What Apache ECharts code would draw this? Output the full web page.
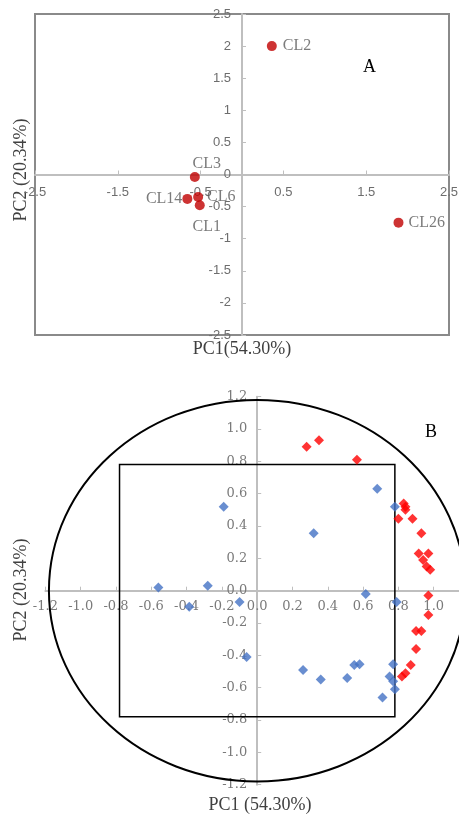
<!DOCTYPE html>
<html><head><meta charset="utf-8">
<script src="https://cdn.jsdelivr.net/npm/echarts@6/dist/echarts.min.js"></script>
<style>html,body{margin:0;padding:0;background:#fff}#c{width:459px;height:817px}</style>
</head><body><div id="c"></div>
<script>
// Chart A: scores
const sampleNames = ['CL2','CL3','CL14','CL6','CL1','CL26'];
const samplePC1 = [0.36,-0.57,-0.66,-0.53,-0.51,1.89];
const samplePC2 = [2.0,-0.04,-0.38,-0.35,-0.48,-0.75];
// Chart B: loadings
const redPoints = [[0.28,0.89],[0.35,0.93],[0.565,0.81],[0.83,0.54],[0.84,0.52],[0.84,0.50],[0.80,0.445],[0.88,0.445],[0.93,0.355],[0.915,0.23],[0.97,0.23],[0.94,0.19],[0.96,0.15],[0.98,0.13],[0.97,-0.03],[0.97,-0.15],[0.90,-0.25],[0.93,-0.25],[0.90,-0.36],[0.87,-0.46],[0.84,-0.51],[0.82,-0.53]];
const bluePoints = [[-0.19,0.52],[0.32,0.355],[0.68,0.63],[0.78,0.52],[-0.56,0.02],[-0.28,0.03],[-0.385,-0.10],[-0.10,-0.07],[0.615,-0.02],[0.79,-0.07],[-0.06,-0.41],[0.26,-0.49],[0.36,-0.55],[0.51,-0.54],[0.55,-0.46],[0.58,-0.455],[0.77,-0.455],[0.75,-0.53],[0.77,-0.56],[0.78,-0.61],[0.71,-0.66]];
const circleRadius = 1.18;
const boxHalf = 0.78;

const labelPos = {
  CL2: {position:'right', distance:6},
  CL3: {position:'top', distance:0, offset:[12,0]},
  CL14:{position:'left', distance:0},
  CL6: {position:'right', distance:4},
  CL1: {position:'bottom', distance:8, offset:[7,0]},
  CL26:{position:'right', distance:5}
};

// grid geometry (pixels)
const gA = {left:35, top:14, width:414, height:321};
const gB = {left:45.4, top:396.7, width:423.6, height:388};
const rangeA = [-2.5, 2.5], rangeB = [-1.2, 1.2];
// offset that puts each axis on the other axis' zero
function zeroOffset(size, r){ return -size * (0 - r[0]) / (r[1] - r[0]); }

const serif = 'Liberation Serif';
const lineStyleAx = {color:'#bfbfbf', width:2};
const tickAx = {show:true, inside:true, length:4, lineStyle:{color:'#bfbfbf'}};
const chart = echarts.init(document.getElementById('c'), null, {renderer:'canvas'});
chart.setOption({
  animation:false,
  grid:[
    Object.assign({show:true, borderColor:'#8a8a8a', borderWidth:2, backgroundColor:'transparent', containLabel:false, outerBoundsMode:'none'}, gA),
    Object.assign({containLabel:false, outerBoundsMode:'none'}, gB)
  ],
  xAxis:[
    {gridIndex:0, type:'value', min:rangeA[0], max:rangeA[1], interval:1, position:'bottom',
     offset:zeroOffset(gA.height, rangeA), axisLine:{onZero:false, lineStyle:lineStyleAx}, axisTick:tickAx,
     axisLabel:{margin:11, color:'#6d6d6d', fontFamily:'Liberation Sans', fontSize:13},
     splitLine:{show:false}},
    {gridIndex:1, type:'value', min:rangeB[0], max:rangeB[1], interval:0.2, position:'bottom',
     offset:zeroOffset(gB.height, rangeB), axisLine:{onZero:false, lineStyle:lineStyleAx}, axisTick:tickAx,
     axisLabel:{margin:9, color:'#7a7a7a', fontFamily:'DejaVu Serif', fontSize:13, formatter:v=>v.toFixed(1)},
     splitLine:{show:false}}
  ],
  yAxis:[
    {gridIndex:0, type:'value', min:rangeA[0], max:rangeA[1], interval:0.5, position:'left',
     offset:zeroOffset(gA.width, rangeA), axisLine:{onZero:false, lineStyle:lineStyleAx}, axisTick:tickAx,
     axisLabel:{margin:11, color:'#6d6d6d', fontFamily:'Liberation Sans', fontSize:13},
     splitLine:{show:false}},
    {gridIndex:1, type:'value', min:rangeB[0], max:rangeB[1], interval:0.2, position:'left',
     offset:zeroOffset(gB.width, rangeB), axisLine:{onZero:false, lineStyle:lineStyleAx}, axisTick:tickAx,
     axisLabel:{margin:10, color:'#7a7a7a', fontFamily:'DejaVu Serif', fontSize:13, formatter:v=>v.toFixed(1)},
     splitLine:{show:false}}
  ],
  series:[
    {type:'scatter', xAxisIndex:0, yAxisIndex:0, symbol:'circle', symbolSize:10, z:3,
     itemStyle:{color:'#c00000'},
     data: sampleNames.map((n,i)=>({value:[samplePC1[i], samplePC2[i]], name:n,
        label:Object.assign({show:true, formatter:n, color:'#5a5a5a', fontFamily:serif, fontSize:16}, labelPos[n])}))},
    {type:'custom', xAxisIndex:1, yAxisIndex:1, data:[[0,0]], z:1, silent:true, clip:false,
     renderItem:(params, api)=>{
       const c = api.coord([0,0]);
       const s = api.size([circleRadius, circleRadius]);
       const p1 = api.coord([-boxHalf, boxHalf]);
       const p2 = api.coord([boxHalf, -boxHalf]);
       return {type:'group', children:[
         {type:'ellipse', shape:{cx:c[0], cy:c[1], rx:s[0], ry:s[1]}, style:{fill:'none', stroke:'#000', lineWidth:2}},
         {type:'rect', shape:{x:p1[0], y:p1[1], width:p2[0]-p1[0], height:p2[1]-p1[1]}, style:{fill:'none', stroke:'#000', lineWidth:1.5}}
       ]};
     }},
    {type:'scatter', xAxisIndex:1, yAxisIndex:1, symbol:'diamond', symbolSize:10, z:3,
     itemStyle:{color:'#ff0000'}, data:redPoints},
    {type:'scatter', xAxisIndex:1, yAxisIndex:1, symbol:'diamond', symbolSize:10, z:3,
     itemStyle:{color:'#4472c4'}, data:bluePoints}
  ],
  graphic:[
    {type:'text', left:363, top:58, style:{text:'A', font:'18px "Liberation Serif"', fill:'#000'}},
    {type:'text', left:425, top:423, style:{text:'B', font:'18px "Liberation Serif"', fill:'#000'}},
    {type:'text', x:242, y:349, style:{text:'PC1(54.30%)', font:'18px "Liberation Serif"', fill:'#404040', align:'center', verticalAlign:'middle'}},
    {type:'text', x:21, y:170, rotation:Math.PI/2, style:{text:'PC2 (20.34%)', font:'18px "Liberation Serif"', fill:'#404040', align:'center', verticalAlign:'middle'}},
    {type:'text', x:260, y:805, style:{text:'PC1 (54.30%)', font:'18px "Liberation Serif"', fill:'#404040', align:'center', verticalAlign:'middle'}},
    {type:'text', x:21, y:590, rotation:Math.PI/2, style:{text:'PC2 (20.34%)', font:'18px "Liberation Serif"', fill:'#404040', align:'center', verticalAlign:'middle'}}
  ]
});
</script></body></html>
